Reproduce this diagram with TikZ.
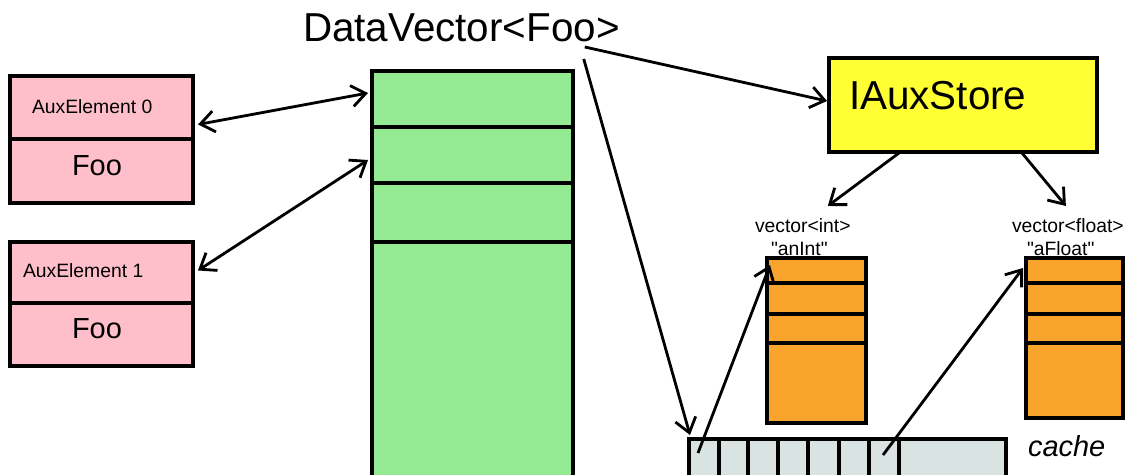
\documentclass[tikz,border=0pt]{standalone}
\usepackage{fontspec}
\setmainfont{Liberation Sans}[Ligatures=TeXOff]
\usetikzlibrary{arrows.meta,calc}
\definecolor{pinkc}{HTML}{FFBFCA}
\definecolor{greenc}{HTML}{93EA93}
\definecolor{yellowc}{HTML}{FFFF33}
\definecolor{orangec}{HTML}{F9A42C}
\definecolor{cachec}{HTML}{D8E3E2}
\newcommand\mycell[6]{\node[cellbox,fill=#6,anchor=north west,minimum width={(#4-#2)*0.02cm},minimum height={(#5-#3)*0.02cm}] (#1) at (#2,#3) {};}
\tikzset{
  cellbox/.style={draw=black,line width=2pt,inner sep=0pt,outer sep=0pt},
  lbl/.style={inner sep=0pt,outer sep=0pt,anchor=base west,text=black},
  tip/.tip={Straight Barb[length=8pt,width=12pt,line width=1.6pt]},
  conn/.style={draw=black,line width=1.6pt,-tip},
  bconn/.style={draw=black,line width=1.6pt,tip-tip}
}
\begin{document}
\begin{tikzpicture}[x=0.02cm,y=-0.02cm]
\useasboundingbox (0,0) rectangle (1125,475);
\clip (0,0) rectangle (1125,475);
% pink boxes
\mycell{aux0}{10}{76}{193}{139}{pinkc}
\mycell{foo0}{10}{139}{193}{203}{pinkc}
\mycell{aux1}{10}{242}{193}{303}{pinkc}
\mycell{foo1}{10}{303}{193}{366}{pinkc}
\node[lbl,font=\fontsize{11}{13}\selectfont] (t0) at (32,114) {AuxElement 0};
\node[lbl,font=\fontsize{16.5}{19}\selectfont] (tf0) at (72,176) {Foo};
\node[lbl,font=\fontsize{11}{13}\selectfont] (t1) at (23,278) {AuxElement 1};
\node[lbl,font=\fontsize{16.5}{19}\selectfont] (tf1) at (72,339) {Foo};
% green vector
\mycell{g1}{372}{71}{573}{127}{greenc}
\mycell{g2}{372}{127}{573}{183}{greenc}
\mycell{g3}{372}{183}{573}{242}{greenc}
\mycell{g4}{372}{242}{573}{490}{greenc}
\node[lbl,font=\fontsize{23}{27}\selectfont] (dv) at (303,42) {DataVector<Foo>};
% IAuxStore
\mycell{ia}{829}{58}{1097}{152}{yellowc}
\node[lbl,font=\fontsize{23}{27}\selectfont] (iat) at (849,110) {IAuxStore};
% labels
\node[lbl,font=\fontsize{11}{13}\selectfont] (vi) at (755,233) {vector<int>};
\node[lbl,font=\fontsize{11}{13}\selectfont] (vin) at (771,256) {"anInt"};
\node[lbl,font=\fontsize{11}{13}\selectfont] (vf) at (1012,233) {vector<float>};
\node[lbl,font=\fontsize{11}{13}\selectfont] (vfn) at (1027,256) {"aFloat"};
% orange vectors
\mycell{i1}{767}{258}{866}{283}{orangec}
\mycell{i2}{767}{283}{866}{314}{orangec}
\mycell{i3}{767}{314}{866}{343}{orangec}
\mycell{i4}{767}{343}{866}{423}{orangec}
\mycell{f1}{1026}{258}{1123}{283}{orangec}
\mycell{f2}{1026}{283}{1123}{314}{orangec}
\mycell{f3}{1026}{314}{1123}{343}{orangec}
\mycell{f4}{1026}{343}{1123}{418}{orangec}
% cache
\mycell{c1}{689}{439}{719}{490}{cachec}
\mycell{c2}{719}{439}{748}{490}{cachec}
\mycell{c3}{748}{439}{778}{490}{cachec}
\mycell{c4}{778}{439}{808}{490}{cachec}
\mycell{c5}{808}{439}{839}{490}{cachec}
\mycell{c6}{839}{439}{869}{490}{cachec}
\mycell{c7}{869}{439}{899}{490}{cachec}
\mycell{c8}{899}{439}{1006}{490}{cachec}
\node[lbl,font=\fontsize{16.5}{19}\itshape] (ct) at (1028,457) {cache};
% connectors
\draw[bconn] ($(aux0.east)+(5,17)$) -- ($(g1.west)+(-4,-6)$);
\draw[bconn] ($(aux1.east)+(5,-2)$) -- ($(g2.west)+(-4,5)$);
\draw[conn] ($(dv.base east)+(-35,5)$) -- ($(ia.west)+(-2,-4)$);
\draw[conn] ($(dv.base east)+(-36,17)$) -- ($(c1.north west)+(1,-4)$);
\draw[conn] ($(ia.south west)+(70,1)$) -- ($(vi.north)+(25,-13)$);
\draw[conn] ($(ia.south east)+(-75,1)$) -- ($(vf.north)+(-2,-13)$);
\draw[conn] ($(c1.north)+(-6,14)$) -- ($(i1.north west)+(3,7)$);
\draw[conn] ($(c7.north)+(-1,16)$) -- ($(f1.north west)+(-3,10)$);
\end{tikzpicture}
\end{document}
